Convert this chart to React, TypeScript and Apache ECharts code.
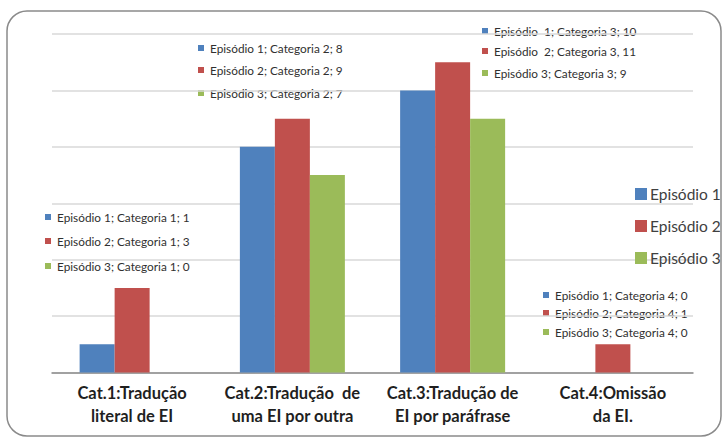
import React, { useEffect, useRef } from "react";
import * as echarts from "echarts";

const categories = [
  "Cat.1:Tradução\nliteral de EI",
  "Cat.2:Tradução  de\numa EI por outra",
  "Cat.3:Tradução de\nEI por paráfrase",
  "Cat.4:Omissão\nda EI.",
];
const seriesNames = ["Episódio 1", "Episódio 2", "Episódio 3"];
const episode1 = [1, 8, 10, 0];
const episode2 = [3, 9, 11, 1];
const episode3 = [0, 7, 9, 0];
const colors = ["#4F81BD", "#C0504D", "#9BBB59"];

// annotation texts, as written in the source figure
const cat1Labels = ["Episódio 1; Categoria 1; 1", "Episódio 2; Categoria 1; 3", "Episódio 3; Categoria 1; 0"];
const cat2Labels = ["Episódio 1; Categoria 2; 8", "Episódio 2; Categoria 2; 9", "Episódio 3; Categoria 2; 7"];
const cat3Labels = ["Episódio  1; Categoria 3; 10", "Episódio  2; Categoria 3, 11", "Episódio 3; Categoria 3; 9"];
const cat4Labels = ["Episódio 1; Categoria 4; 0", "Episódio 2; Categoria 4; 1", "Episódio 3; Categoria 4; 0"];

const FONT = "Lato, 'Open Sans', sans-serif";

function labelBlock(texts: string[], x: number, ys: number[]) {
  const children: any[] = [];
  texts.forEach((t, i) => {
    children.push({
      type: "rect",
      shape: { x: x - 3, y: ys[i] - 3, width: 6, height: 6 },
      style: { fill: colors[i] },
    });
    children.push({
      type: "text",
      x: x + 9,
      y: ys[i],
      style: {
        text: t,
        fill: "#303030",
        font: `11.8px ${FONT}`,
        textVerticalAlign: "middle",
        textAlign: "left",
      },
    });
  });
  return { type: "group", children };
}

export default function App() {
  const ref = useRef<HTMLDivElement>(null);
  useEffect(() => {
    if (!ref.current) return;
    const chart = echarts.init(ref.current, undefined, { renderer: "svg" });
    const data = [episode1, episode2, episode3];
    chart.setOption({
      animation: false,
      backgroundColor: "#ffffff",
      textStyle: { fontFamily: FONT },
      grid: { left: 52, right: 32, top: 34, bottom: 65.5, containLabel: false },
      legend: {
        orient: "vertical",
        left: 630,
        top: 181,
        itemWidth: 12,
        itemHeight: 12,
        itemGap: 16,
        icon: "rect",
        textStyle: { fontSize: 15.5, color: "#404040", fontFamily: FONT, padding: [0, 0, 0, -2] },
        data: seriesNames,
      },
      xAxis: {
        type: "category",
        data: categories,
        axisLine: { lineStyle: { color: "#8c8c8c", width: 1.5 } },
        axisTick: { show: false },
        axisLabel: {
          interval: 0,
          fontSize: 16.5,
          fontWeight: "bold",
          color: "#1f1f1f",
          lineHeight: 23,
          margin: 9,
          fontFamily: FONT,
        },
      },
      yAxis: {
        type: "value",
        min: 0,
        max: 12,
        interval: 2,
        axisLabel: { show: false },
        axisLine: { show: false },
        axisTick: { show: false },
        splitLine: { lineStyle: { color: "#d9d9d9", width: 1.5 } },
      },
      series: seriesNames.map((name, i) => ({
        name,
        type: "bar",
        data: data[i],
        barWidth: 35,
        barGap: "0%",
        itemStyle: { color: colors[i] },
      })),
      graphic: [
        {
          type: "rect",
          shape: { x: 7, y: 11, width: 714, height: 425, r: 20 },
          style: { fill: "none", stroke: "#8a8a8a", lineWidth: 1.5 },
          z: 100,
        },
        labelBlock(cat1Labels, 48, [217, 241, 266]),
        labelBlock(cat2Labels, 201, [48, 70, 93]),
        labelBlock(cat3Labels, 485, [31, 51, 73]),
        labelBlock(cat4Labels, 546, [295, 313, 332]),
      ],
    });
    return () => chart.dispose();
  }, []);
  return (
    <div
      ref={ref}
      style={{ position: "fixed", left: 0, top: 0, width: 725, height: 438, background: "#fff" }}
    />
  );
}
